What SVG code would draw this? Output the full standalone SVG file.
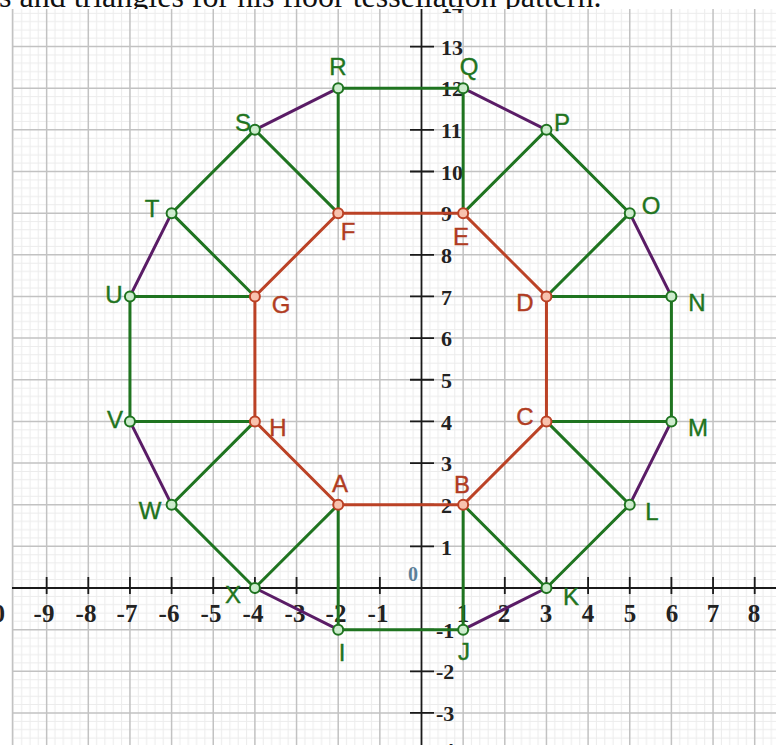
<svg xmlns="http://www.w3.org/2000/svg" width="776" height="745" viewBox="0 0 776 745">
  <style>
    .title { font-family: "Liberation Serif", "Times New Roman", serif; font-size: 32px; fill: #111; }
    .major { stroke: #c2c2c2; stroke-width: 1.5; fill: none; }
    .axis { stroke: #1a1a1a; stroke-width: 1.8; fill: none; }
    .tick { stroke: #1a1a1a; stroke-width: 1.8; fill: none; }
    .xlab { font-family: "Liberation Serif", "Times New Roman", serif; font-weight: bold; font-size: 25px; fill: #222; text-anchor: middle; }
    .ylab { font-family: "Liberation Serif", "Times New Roman", serif; font-weight: bold; font-size: 22px; fill: #222; }
    .zero { font-family: "Liberation Serif", "Times New Roman", serif; font-weight: bold; font-size: 20px; fill: #5b7f99; text-anchor: middle; }
    .green { stroke: #1f7420; stroke-width: 3; fill: none; stroke-linecap: round; }
    .red { stroke: #bb4226; stroke-width: 3; fill: none; stroke-linecap: round; }
    .purple { stroke: #5a1c66; stroke-width: 3; fill: none; stroke-linecap: round; }
    .gpt { fill: #cdeccd; stroke: #1f7420; stroke-width: 2; }
    .rpt { fill: #f8c2ae; stroke: #bb4226; stroke-width: 2; }
    .glab { font-family: "Liberation Sans", Arial, sans-serif; font-size: 24px; fill: #1f7420; stroke: #1f7420; stroke-width: 0.4; text-anchor: middle; }
    .rlab { font-family: "Liberation Sans", Arial, sans-serif; font-size: 24px; fill: #b03c22; stroke: #b03c22; stroke-width: 0.4; text-anchor: middle; }
  </style>
  <defs>
    <pattern id="minor" patternUnits="userSpaceOnUse" x="421.5" y="588" width="41.65" height="41.65">
      <path d="M8.33 0V41.65M16.66 0V41.65M24.99 0V41.65M33.32 0V41.65M0 8.33H41.65M0 16.66H41.65M0 24.99H41.65M0 33.32H41.65" stroke="#ececec" stroke-width="1" fill="none"/>
    </pattern>
    <clipPath id="graph">
      <rect x="0" y="9" width="776" height="736"/>
    </clipPath>
  </defs>

  <rect x="0" y="0" width="776" height="745" fill="#ffffff"/>
  <text class="title" x="-1" y="7">s and triangles for his floor tessellation pattern.</text>

  <!-- graph area -->
  <rect x="12" y="9" width="764" height="736" fill="#ffffff"/>
  <rect x="12" y="9" width="764" height="736" fill="url(#minor)"/>
  <path class="major" d="M12.5 9V745
    M46.65 9V745M88.3 9V745M129.95 9V745M171.6 9V745M213.25 9V745M254.9 9V745M296.55 9V745M338.2 9V745M379.85 9V745
    M463.15 9V745M504.8 9V745M546.45 9V745M588.1 9V745M629.75 9V745M671.4 9V745M713.05 9V745M754.7 9V745
    M12 46.55H776M12 88.2H776M12 129.85H776M12 171.5H776M12 213.15H776M12 254.8H776M12 296.45H776M12 338.1H776M12 379.75H776
    M12 421.4H776M12 463.05H776M12 504.7H776M12 546.35H776M12 629.65H776M12 671.3H776M12 712.95H776"/>

  <g clip-path="url(#graph)">
    <!-- axes -->
    <path class="axis" d="M12 588H776M421.5 9V745"/>
    <path class="tick" d="M46.65 577V594M88.3 577V594M129.95 577V594M171.6 577V594M213.25 577V594M254.9 577V594M296.55 577V594M338.2 577V594M379.85 577V594
      M463.15 577V594M504.8 577V594M546.45 577V594M588.1 577V594M629.75 577V594M671.4 577V594M713.05 577V594M754.7 577V594"/>
    <path class="tick" d="M410 4.9H434M410 46.55H434M410 88.2H434M410 129.85H434M410 171.5H434M410 213.15H434M410 254.8H434M410 296.45H434M410 338.1H434
      M410 379.75H434M410 421.4H434M410 463.05H434M410 504.7H434M410 546.35H434M410 629.65H434M410 671.3H434M410 712.95H434M410 754.6H434"/>

    <!-- x-axis labels -->
    <text class="xlab" x="5" y="622" style="text-anchor:end">-10</text>
    <text class="xlab" x="44" y="622">-9</text>
    <text class="xlab" x="86" y="622">-8</text>
    <text class="xlab" x="127" y="622">-7</text>
    <text class="xlab" x="169" y="622">-6</text>
    <text class="xlab" x="211" y="622">-5</text>
    <text class="xlab" x="253" y="622">-4</text>
    <text class="xlab" x="295" y="622">-3</text>
    <text class="xlab" x="336" y="622">-2</text>
    <text class="xlab" x="378" y="622">-1</text>
    <text class="xlab" x="463" y="622">1</text>
    <text class="xlab" x="504" y="622">2</text>
    <text class="xlab" x="546" y="622">3</text>
    <text class="xlab" x="588" y="622">4</text>
    <text class="xlab" x="630" y="622">5</text>
    <text class="xlab" x="672" y="622">6</text>
    <text class="xlab" x="713" y="622">7</text>
    <text class="xlab" x="754" y="622">8</text>

    <!-- y-axis labels -->
    <text class="ylab" x="441" y="13">14</text>
    <text class="ylab" x="441" y="55">13</text>
    <text class="ylab" x="441" y="96">12</text>
    <text class="ylab" x="441" y="138">11</text>
    <text class="ylab" x="441" y="180">10</text>
    <text class="ylab" x="441" y="221">9</text>
    <text class="ylab" x="441" y="263">8</text>
    <text class="ylab" x="441" y="305">7</text>
    <text class="ylab" x="441" y="346">6</text>
    <text class="ylab" x="441" y="388">5</text>
    <text class="ylab" x="441" y="430">4</text>
    <text class="ylab" x="441" y="471">3</text>
    <text class="ylab" x="441" y="513">2</text>
    <text class="ylab" x="441" y="555">1</text>
    <text class="ylab" x="436" y="638">-1</text>
    <text class="ylab" x="436" y="679">-2</text>
    <text class="ylab" x="436" y="721">-3</text>
    <text class="ylab" x="436" y="758">-4</text>
    <text class="zero" x="413" y="581">0</text>
  </g>

  <!-- connectors -->
  <g id="connectors">
    <g id="octagon">
      <path class="red" d="M338.2 504.7L463.15 504.7L546.45 421.4L546.45 296.45L463.15 213.15L338.2 213.15L254.9 296.45L254.9 421.4Z"/>
    </g>
    <g id="squares">
      <path class="green" d="M338.2 504.7L338.2 629.65L463.15 629.65L463.15 504.7"/>
      <path class="green" d="M463.15 504.7L546.45 588L629.75 504.7L546.45 421.4"/>
      <path class="green" d="M546.45 421.4L671.4 421.4L671.4 296.45L546.45 296.45"/>
      <path class="green" d="M546.45 296.45L629.75 213.15L546.45 129.85L463.15 213.15"/>
      <path class="green" d="M463.15 213.15L463.15 88.2L338.2 88.2L338.2 213.15"/>
      <path class="green" d="M338.2 213.15L254.9 129.85L171.6 213.15L254.9 296.45"/>
      <path class="green" d="M254.9 296.45L129.95 296.45L129.95 421.4L254.9 421.4"/>
      <path class="green" d="M254.9 421.4L171.6 504.7L254.9 588L338.2 504.7"/>
    </g>
    <g id="triangle-sides">
      <path class="purple" d="M463.15 629.65L546.45 588"/>
      <path class="purple" d="M629.75 504.7L671.4 421.4"/>
      <path class="purple" d="M671.4 296.45L629.75 213.15"/>
      <path class="purple" d="M546.45 129.85L463.15 88.2"/>
      <path class="purple" d="M338.2 88.2L254.9 129.85"/>
      <path class="purple" d="M171.6 213.15L129.95 296.45"/>
      <path class="purple" d="M129.95 421.4L171.6 504.7"/>
      <path class="purple" d="M254.9 588L338.2 629.65"/>
    </g>
  </g>

  <!-- nodes -->
  <g id="A"><circle class="rpt" cx="338.2" cy="504.7" r="5"/><text class="rlab" x="340" y="492">A</text></g>
  <g id="B"><circle class="rpt" cx="463.15" cy="504.7" r="5"/><text class="rlab" x="462" y="493">B</text></g>
  <g id="C"><circle class="rpt" cx="546.45" cy="421.4" r="5"/><text class="rlab" x="525" y="425">C</text></g>
  <g id="D"><circle class="rpt" cx="546.45" cy="296.45" r="5"/><text class="rlab" x="525" y="311">D</text></g>
  <g id="E"><circle class="rpt" cx="463.15" cy="213.15" r="5"/><text class="rlab" x="461" y="245">E</text></g>
  <g id="F"><circle class="rpt" cx="338.2" cy="213.15" r="5"/><text class="rlab" x="348" y="240">F</text></g>
  <g id="G"><circle class="rpt" cx="254.9" cy="296.45" r="5"/><text class="rlab" x="281" y="313">G</text></g>
  <g id="H"><circle class="rpt" cx="254.9" cy="421.4" r="5"/><text class="rlab" x="278" y="436">H</text></g>

  <g id="I"><circle class="gpt" cx="338.2" cy="629.65" r="5"/><text class="glab" x="342" y="661">I</text></g>
  <g id="J"><circle class="gpt" cx="463.15" cy="629.65" r="5"/><text class="glab" x="464" y="660">J</text></g>
  <g id="K"><circle class="gpt" cx="546.45" cy="588" r="5"/><text class="glab" x="571" y="605">K</text></g>
  <g id="L"><circle class="gpt" cx="629.75" cy="504.7" r="5"/><text class="glab" x="652" y="520">L</text></g>
  <g id="M"><circle class="gpt" cx="671.4" cy="421.4" r="5"/><text class="glab" x="698" y="436">M</text></g>
  <g id="N"><circle class="gpt" cx="671.4" cy="296.45" r="5"/><text class="glab" x="697" y="311">N</text></g>
  <g id="O"><circle class="gpt" cx="629.75" cy="213.15" r="5"/><text class="glab" x="651" y="214">O</text></g>
  <g id="P"><circle class="gpt" cx="546.45" cy="129.85" r="5"/><text class="glab" x="562" y="131">P</text></g>
  <g id="Q"><circle class="gpt" cx="463.15" cy="88.2" r="5"/><text class="glab" x="469" y="75">Q</text></g>
  <g id="R"><circle class="gpt" cx="338.2" cy="88.2" r="5"/><text class="glab" x="338" y="75">R</text></g>
  <g id="S"><circle class="gpt" cx="254.9" cy="129.85" r="5"/><text class="glab" x="243" y="131">S</text></g>
  <g id="T"><circle class="gpt" cx="171.6" cy="213.15" r="5"/><text class="glab" x="152" y="217">T</text></g>
  <g id="U"><circle class="gpt" cx="129.95" cy="296.45" r="5"/><text class="glab" x="114" y="303">U</text></g>
  <g id="V"><circle class="gpt" cx="129.95" cy="421.4" r="5"/><text class="glab" x="115" y="428">V</text></g>
  <g id="W"><circle class="gpt" cx="171.6" cy="504.7" r="5"/><text class="glab" x="150" y="519">W</text></g>
  <g id="X"><circle class="gpt" cx="254.9" cy="588" r="5"/><text class="glab" x="233" y="603">X</text></g>
</svg>
